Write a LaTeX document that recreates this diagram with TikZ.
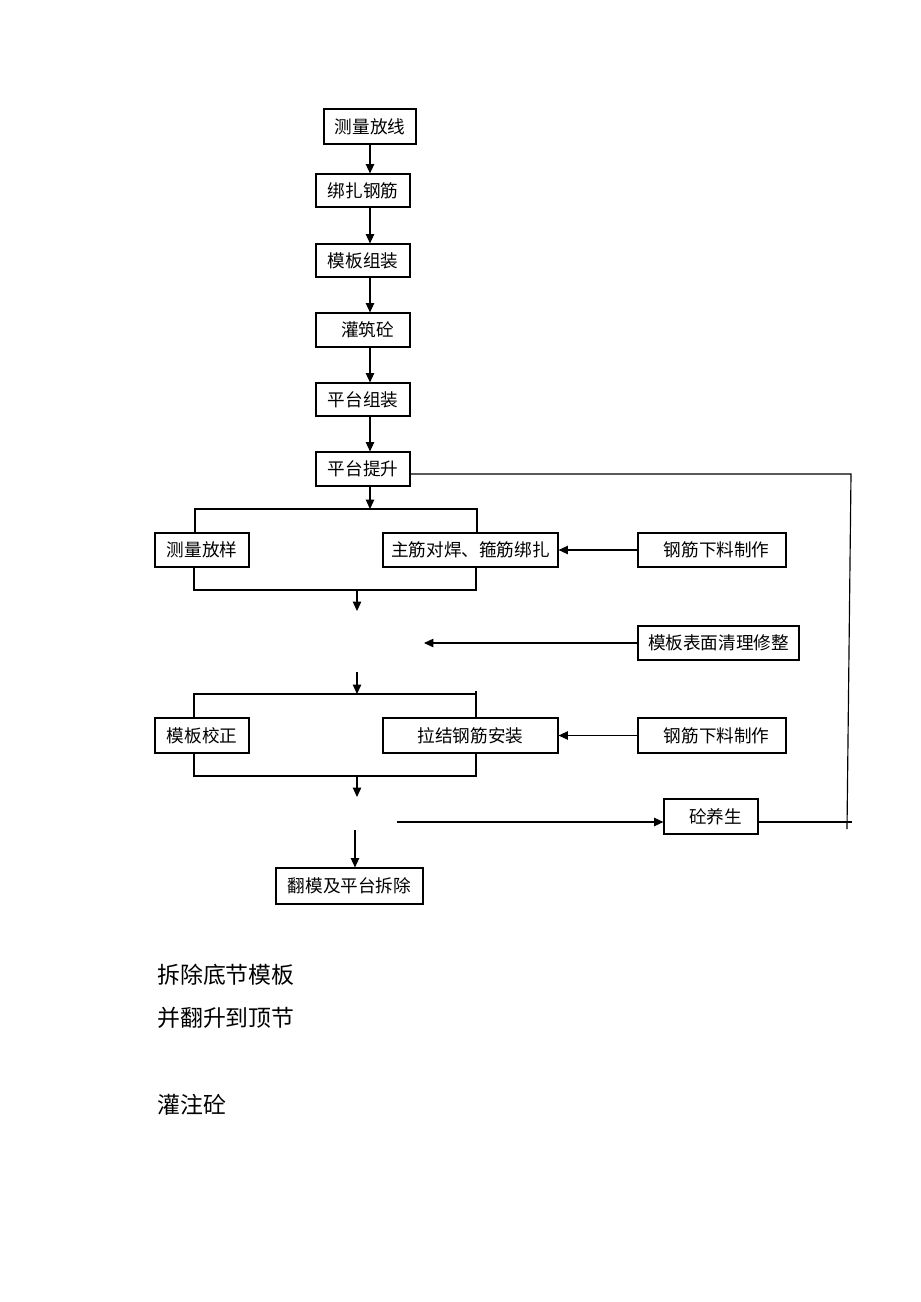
\documentclass[tikz,border=0pt]{standalone}
\usepackage{fontspec}
\setmainfont{Noto Sans CJK SC}
\usetikzlibrary{arrows.meta}

\tikzset{
  box/.style = {draw, black, line width = 0.75pt, inner sep = 0pt, font = \fontsize{11.4pt}{13pt}\selectfont},
  arr/.style = {black, line width = 0.75pt, -{Triangle[length = 6pt, width = 5.4pt]}},
  ln/.style = {black, line width = 0.75pt},
  note/.style = {anchor = west, inner sep = 0pt, font = \fontsize{14.8pt}{17pt}\selectfont}
}

\begin{document}
\begin{tikzpicture}[x = 0.647pt, y = -0.647pt]
\useasboundingbox (0, 0) rectangle (920, 1302);
\node[box, minimum width = 92*0.647pt, minimum height = 35*0.647pt] (clfx) at (370, 126.5){测量放线};
\node[box, minimum width = 94*0.647pt, minimum height = 33*0.647pt] (bzgj) at (363, 190.5){绑扎钢筋};
\node[box, minimum width = 94*0.647pt, minimum height = 33*0.647pt] (mbzz) at (363, 260.5){模板组装};
\node[box, minimum width = 94*0.647pt, minimum height = 34*0.647pt] (gzt) at (363, 330){\hspace{6pt}灌筑砼};
\node[box, minimum width = 94*0.647pt, minimum height = 33*0.647pt] (ptzz) at (363, 399.5){平台组装};
\node[box, minimum width = 94*0.647pt, minimum height = 34*0.647pt] (pttx) at (363, 469){平台提升};
\node[box, minimum width = 94*0.647pt, minimum height = 34*0.647pt] (clfy) at (202, 550){测量放样};
\node[box, minimum width = 175*0.647pt, minimum height = 34*0.647pt] (zjdh) at (470.5, 550){主筋对焊、箍筋绑扎};
\node[box, minimum width = 148*0.647pt, minimum height = 34*0.647pt] (gjxl) at (712, 550){\hspace{6pt}钢筋下料制作};
\node[box, minimum width = 161*0.647pt, minimum height = 34*0.647pt] (mbqx) at (718.5, 643){模板表面清理修整};
\node[box, minimum width = 94*0.647pt, minimum height = 35*0.647pt] (mbjz) at (202, 735.5){模板校正};
\node[box, minimum width = 175*0.647pt, minimum height = 35*0.647pt] (ljgj) at (470.5, 735.5){拉结钢筋安装};
\node[box, minimum width = 148*0.647pt, minimum height = 35*0.647pt] (gjxlb) at (712, 735.5){\hspace{6pt}钢筋下料制作};
\node[box, minimum width = 94*0.647pt, minimum height = 35*0.647pt] (tys) at (711, 816.5){\hspace{6pt}砼养生};
\node[box, minimum width = 147*0.647pt, minimum height = 36*0.647pt] (fmcc) at (349.5, 886){翻模及平台拆除};

\coordinate (b1l) at (195, 509);
\coordinate (b1r) at (477, 509);
\coordinate (m1l) at (194, 590);
\coordinate (m1r) at (476, 590);
\coordinate (m1c) at (357, 590);
\coordinate (a1) at (357, 611);
\coordinate (p1) at (424, 643);
\coordinate (a2) at (357, 672);
\coordinate (b2l) at (194, 694);
\coordinate (b2r) at (476, 694);
\coordinate (m2l) at (194, 776);
\coordinate (m2r) at (476, 776);
\coordinate (m2c) at (357, 776);
\coordinate (a3) at (357, 797);
\coordinate (a4) at (355, 830);
\coordinate (h1) at (397, 822);
\coordinate (r1) at (851, 474);
\coordinate (r2) at (852, 822);
\coordinate (r3) at (847, 829);

\draw[arr] (clfx.south) -- (clfx.south |- bzgj.north);
\draw[arr] (bzgj.south -| clfx) -- (mbzz.north -| clfx);
\draw[arr] (mbzz.south -| clfx) -- (gzt.north -| clfx);
\draw[arr] (gzt.south -| clfx) -- (ptzz.north -| clfx);
\draw[arr] (ptzz.south -| clfx) -- (pttx.north -| clfx);
\draw[arr] (pttx.south -| clfx) -- (b1l -| clfx);

\draw[ln] (b1l |- clfy.north) -- (b1l) -- (b1r) -- (b1r |- zjdh.north);
\draw[ln] (m1l |- clfy.south) -- (m1l) -- (m1r) -- (m1r |- zjdh.south);
\draw[arr] (gjxl) -- (zjdh);
\draw[arr] (m1c) -- (a1);
\draw[arr] (mbqx.west) -- (p1);
\draw[arr] (a2) -- (a2 |- b2l);

\draw[ln] (b2l |- mbjz.north) -- (b2l) -- (b2r) -- (b2r |- ljgj.north);
\draw[ln] (b2r) -- ++(0, -3);
\draw[ln] (m2l |- mbjz.south) -- (m2l) -- (m2r) -- (m2r |- ljgj.south);
\draw[arr] (gjxlb) -- (ljgj);
\draw[arr] (m2c) -- (a3);

\draw[arr] (a4) -- (a4 |- fmcc.north);
\draw[arr] (h1) -- (h1 -| tys.west);

\draw[ln] (r1 -| pttx.east) -- (r1) -- (r3);
\draw[ln] (r2 -| tys.east) -- (r2);

\node[note] (n1) at (157, 975){拆除底节模板};
\node[note] (n2) at (157, 1018){并翻升到顶节};
\node[note] (n3) at (157, 1105){灌注砼};
\end{tikzpicture}
\end{document}
